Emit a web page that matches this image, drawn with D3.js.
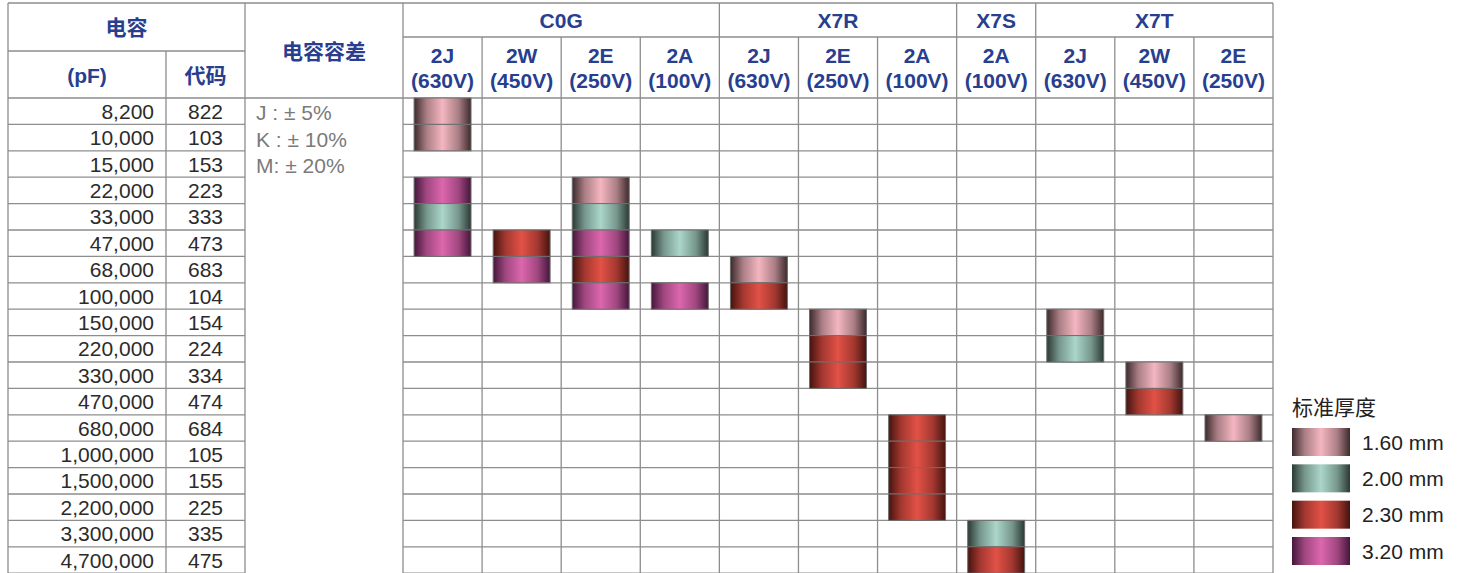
<!DOCTYPE html>
<html>
<head>
<meta charset="utf-8">
<script src="https://cdn.jsdelivr.net/npm/d3@7"></script>
<style>
  html, body { margin: 0; padding: 0; background: #fff; }
  svg { display: block; }
</style>
</head>
<body>
<div id="app"></div>
<script>
// capacitance rows
const capValues = ["8,200", "10,000", "15,000", "22,000", "33,000", "47,000", "68,000", "100,000",
  "150,000", "220,000", "330,000", "470,000", "680,000", "1,000,000", "1,500,000", "2,200,000",
  "3,300,000", "4,700,000"]
const capCodes = ["822", "103", "153", "223", "333", "473", "683", "104", "154", "224", "334",
  "474", "684", "105", "155", "225", "335", "475"]
const tolerances = ["J : ± 5%", "K : ± 10%", "M: ± 20%"]

// dielectric groups and voltage columns
const groups = [
  { name: "C0G", span: 4 },
  { name: "X7R", span: 3 },
  { name: "X7S", span: 1 },
  { name: "X7T", span: 3 },
]
const voltCodes = ["2J", "2W", "2E", "2A", "2J", "2E", "2A", "2A", "2J", "2W", "2E"]
const voltages = ["(630V)", "(450V)", "(250V)", "(100V)", "(630V)", "(250V)", "(100V)", "(100V)", "(630V)", "(450V)", "(250V)"]

// standard thickness legend
const thickness = ["1.60 mm", "2.00 mm", "2.30 mm", "3.20 mm"]

// [column, row, thickness index]
const cells = [
  [0, 0, 0], [0, 1, 0], [0, 3, 3], [0, 4, 1], [0, 5, 3],
  [1, 5, 2], [1, 6, 3],
  [2, 3, 0], [2, 4, 1], [2, 5, 3], [2, 6, 2], [2, 7, 3],
  [3, 5, 1], [3, 7, 3],
  [4, 6, 0], [4, 7, 2],
  [5, 8, 0], [5, 9, 2], [5, 10, 2],
  [6, 12, 2], [6, 13, 2], [6, 14, 2], [6, 15, 2],
  [7, 16, 1], [7, 17, 2],
  [8, 8, 0], [8, 9, 1],
  [9, 10, 0], [9, 11, 2],
  [10, 12, 0],
]

const W = 1464, H = 573
const blue = "#283e8f"
const gridC = "#8d8d8d"
const latin = "Arial, 'Liberation Sans', Helvetica, sans-serif"
const cjk = "Arial, 'Liberation Sans', 'Noto Sans CJK SC', sans-serif"
const fs = 21

// gradient [edge, center]
const grad = [
  ["#3c2a2c", "#f4b6c0"],
  ["#2a3934", "#abd6c9"],
  ["#45130f", "#e25146"],
  ["#45163b", "#dc67ad"],
]

const svg = d3.select("#app").append("svg")
  .attr("width", W)
  .attr("height", H)

const defs = svg.append("defs")
grad.forEach((g, i) => {
  const lg = defs.append("linearGradient")
    .attr("id", "g" + i)
    .attr("x1", "0%").attr("x2", "100%")
    .attr("y1", "0%").attr("y2", "0%")
  lg.append("stop").attr("offset", "0%").attr("stop-color", g[0])
  lg.append("stop").attr("offset", "22%").attr("stop-color", d3.interpolateRgb(g[0], g[1])(0.6))
  lg.append("stop").attr("offset", "50%").attr("stop-color", g[1])
  lg.append("stop").attr("offset", "78%").attr("stop-color", d3.interpolateRgb(g[0], g[1])(0.6))
  lg.append("stop").attr("offset", "100%").attr("stop-color", g[0])
})

// layout
const xLeft = 8, xCode = 166, xTol = 245, xData = 403, xRight = 1273
const yTop = 3, yGroup = 37, yCap = 51, yHead = 98
const rowH = 26.4

const y = d3.scaleBand()
  .domain(d3.range(capValues.length))
  .range([yHead, yHead + rowH * capValues.length])
const x = d3.scaleBand()
  .domain(d3.range(voltCodes.length))
  .range([xData, xRight])

const grid = svg.append("g")
  .attr("stroke", gridC)
  .attr("stroke-width", 1.3)
  .attr("fill", "none")

function hline(x1, x2, yy) {
  grid.append("line").attr("x1", x1).attr("x2", x2).attr("y1", yy).attr("y2", yy)
}
function vline(xx, y1, y2) {
  grid.append("line").attr("x1", xx).attr("x2", xx).attr("y1", y1).attr("y2", y2)
}

// horizontal lines
hline(xLeft, xRight, yTop)
hline(xLeft, xTol, yCap)
hline(xData, xRight, yGroup)
hline(xLeft, xRight, yHead)
d3.range(1, capValues.length + 1).forEach(i => {
  const yy = yHead + i * rowH
  hline(xLeft, xTol, yy)
  hline(xData, xRight, yy)
})

// vertical lines
vline(xLeft, yTop, H)
vline(xCode, yCap, H)
vline(xTol, yTop, H)
let acc = 0
groups.forEach(g => {
  vline(x(acc), yTop, H)
  for (let k = 1; k < g.span; k++) vline(x(acc + k), yGroup, H)
  acc += g.span
})
vline(xRight, yTop, H)

// header text
const head = svg.append("g")
  .attr("fill", blue)
  .attr("font-weight", "bold")
  .attr("font-size", fs)
  .attr("text-anchor", "middle")

head.append("text").attr("x", (xLeft + xTol) / 2).attr("y", 35)
  .attr("font-family", cjk).text("电容")
head.append("text").attr("x", (xLeft + xCode) / 2).attr("y", 83)
  .attr("font-family", latin).text("(pF)")
head.append("text").attr("x", (xCode + xTol) / 2).attr("y", 83)
  .attr("font-family", cjk).text("代码")
head.append("text").attr("x", (xTol + xData) / 2).attr("y", 59)
  .attr("font-family", cjk).text("电容容差")

acc = 0
groups.forEach(g => {
  const x0 = x(acc), x1 = x(acc + g.span - 1) + x.bandwidth()
  head.append("text").attr("x", (x0 + x1) / 2).attr("y", 28)
    .attr("font-family", latin).text(g.name)
  acc += g.span
})

head.selectAll("text.vc")
  .data(voltCodes)
  .join("text")
    .attr("class", "vc")
    .attr("font-family", latin)
    .attr("x", (d, i) => x(i) + x.bandwidth() / 2)
    .attr("y", 63)
    .text(d => d)
head.selectAll("text.vv")
  .data(voltages)
  .join("text")
    .attr("class", "vv")
    .attr("font-family", latin)
    .attr("x", (d, i) => x(i) + x.bandwidth() / 2)
    .attr("y", 88)
    .text(d => d)

// body text
const body = svg.append("g")
  .attr("font-family", latin)
  .attr("font-size", fs)
  .attr("fill", "#2b2b2b")

body.selectAll("text.cap")
  .data(capValues)
  .join("text")
    .attr("class", "cap")
    .attr("text-anchor", "end")
    .attr("x", 154)
    .attr("y", (d, i) => y(i) + rowH / 2 + 7.5)
    .text(d => d)
body.selectAll("text.code")
  .data(capCodes)
  .join("text")
    .attr("class", "code")
    .attr("text-anchor", "middle")
    .attr("x", (xCode + xTol) / 2)
    .attr("y", (d, i) => y(i) + rowH / 2 + 7.5)
    .text(d => d)
body.selectAll("text.tol")
  .data(tolerances)
  .join("text")
    .attr("class", "tol")
    .attr("fill", "#7a7a7a")
    .attr("x", 256)
    .attr("y", (d, i) => y(i) + rowH / 2 + 9)
    .text(d => d)

// thickness bars
const barW = x.bandwidth() * 0.72
svg.append("g")
  .selectAll("rect")
  .data(cells)
  .join("rect")
    .attr("x", d => x(d[0]) + (x.bandwidth() - barW) / 2)
    .attr("y", d => y(d[1]))
    .attr("width", barW)
    .attr("height", y.bandwidth())
    .attr("fill", d => `url(#g${d[2]})`)
    .attr("stroke", "#6e6e6e")
    .attr("stroke-width", 1)

// legend
const lg = svg.append("g").attr("transform", "translate(1292,0)")
lg.append("text")
  .attr("x", 0).attr("y", 415)
  .attr("font-family", "'Noto Sans CJK SC', sans-serif")
  .attr("font-size", 21)
  .attr("fill", "#222")
  .text("标准厚度")
const ly = d3.scaleLinear()
  .domain([0, thickness.length - 1])
  .range([428, 537])
lg.selectAll("rect")
  .data(thickness)
  .join("rect")
    .attr("x", 0)
    .attr("y", (d, i) => ly(i))
    .attr("width", 58)
    .attr("height", 28)
    .attr("fill", (d, i) => `url(#g${i})`)
lg.selectAll("text.lab")
  .data(thickness)
  .join("text")
    .attr("class", "lab")
    .attr("x", 70)
    .attr("y", (d, i) => ly(i) + 14 + 7.5)
    .attr("font-family", latin)
    .attr("font-size", fs)
    .attr("fill", "#222")
    .text(d => d)
</script>
</body>
</html>
